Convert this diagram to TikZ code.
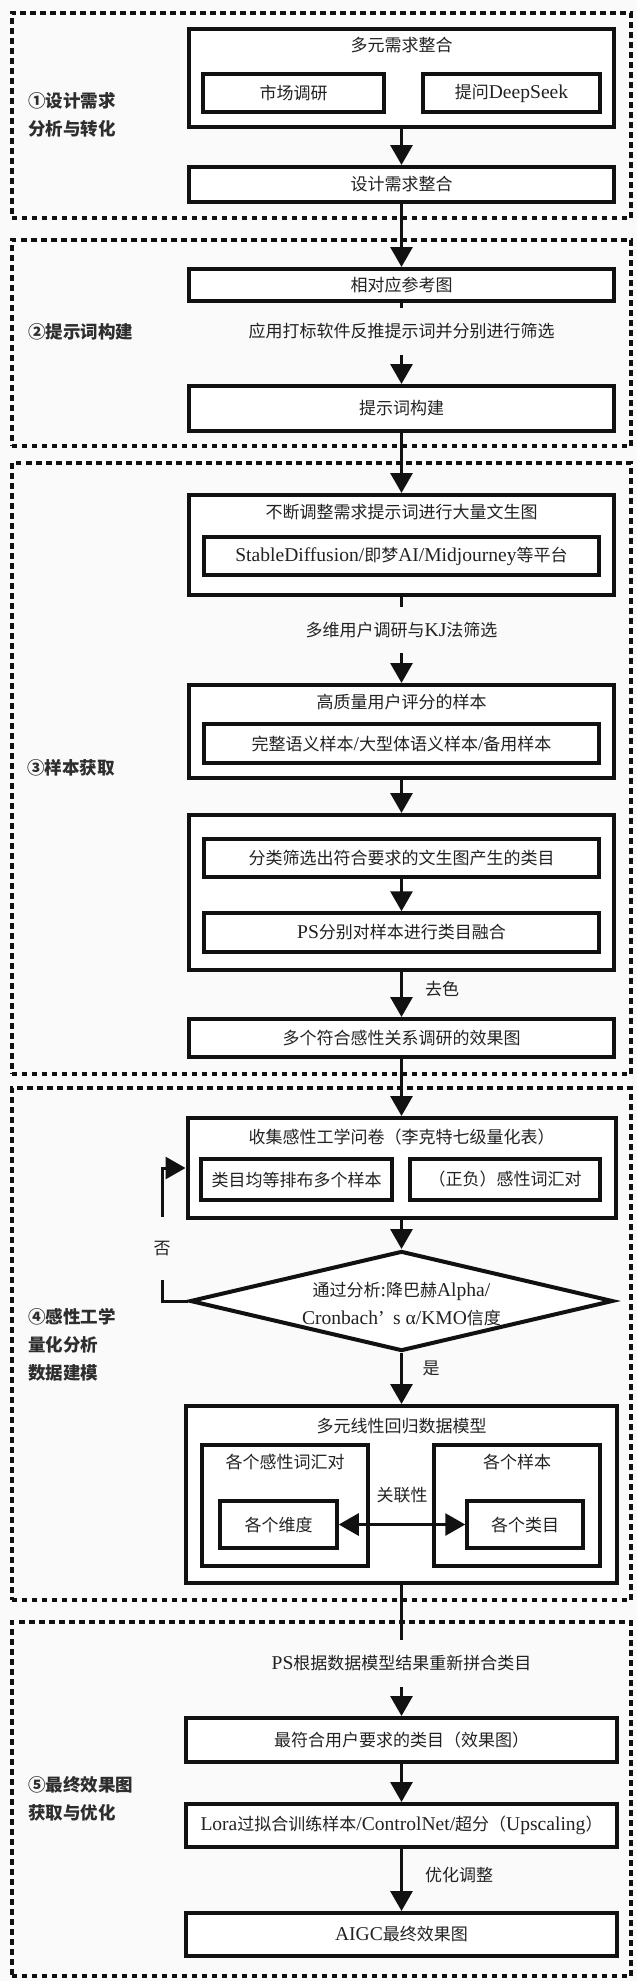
\documentclass[tikz,border=0pt]{standalone}
\usepackage{fontspec}
\setmainfont{Noto Sans CJK SC}
\newfontfamily\latf[Scale=1.15]{Liberation Serif}
\newcommand\en[1]{{\latf #1}}
\usetikzlibrary{arrows.meta,shapes.geometric}
\definecolor{bg}{HTML}{FAFAFA}
\definecolor{ink}{HTML}{222222}
\definecolor{lab}{HTML}{2E2E2E}
\definecolor{edge}{HTML}{111111}
\begin{document}
\begin{tikzpicture}[x=1pt,y=-1pt,
  txt/.style={text=ink, font=\fontsize{17}{20}\selectfont, inner sep=2pt},
  obox/.style={draw=edge, line width=4pt, fill=white, txt},
  ibox/.style={draw=edge, line width=3.5pt, fill=white, txt},
  lbl/.style={anchor=west, align=left, text=lab, inner sep=0pt, font=\bfseries\fontsize{17.5}{28}\selectfont},
  arr/.style={draw=edge, line width=3pt, -{Triangle[width=22pt,length=20pt]}},
  darr/.style={draw=edge, line width=3pt, {Triangle[width=22pt,length=20pt]}-{Triangle[width=22pt,length=20pt]}},
  ln/.style={draw=edge, line width=3pt},
  sect/.style={draw=edge, line width=4pt, dash pattern=on 5.5pt off 4.5pt}
]
\fill[bg] (0,0) rectangle (637,1981);
\useasboundingbox (0,0) rectangle (637,1981);

% section frames
\node[sect, minimum width=619.5pt, minimum height=205.3pt] (d1) at (321.25,115.35) {};
\node[sect, minimum width=619.5pt, minimum height=206pt] (d2) at (321.25,343) {};
\node[sect, minimum width=619.5pt, minimum height=611pt] (d3) at (321.25,768.5) {};
\node[sect, minimum width=619.5pt, minimum height=512pt] (d4) at (321.25,1344) {};
\node[sect, minimum width=619.5pt, minimum height=354pt] (d5) at (321.25,1799) {};

% section 1
\node[obox, minimum width=425pt, minimum height=98pt] (b1) at (401.5,78) {};
\node[txt] (b1t) at (401.5,45) {多元需求整合};
\node[ibox, minimum width=181pt, minimum height=38pt] (b1a) at (293.5,93) {市场调研};
\node[ibox, minimum width=177pt, minimum height=38pt] (b1b) at (511.5,93) {提问\en{DeepSeek}};
\node[obox, minimum width=425pt, minimum height=35pt] (b2) at (401.5,184.5) {设计需求整合};

% section 2
\node[obox, minimum width=425pt, minimum height=32pt] (b3) at (401.5,285) {相对应参考图};
\node[txt, minimum height=47pt] (t2) at (401.5,331.5) {应用打标软件反推提示词并分别进行筛选};
\node[obox, minimum width=425pt, minimum height=45pt] (b4) at (401.5,408.5) {提示词构建};

% section 3
\node[obox, minimum width=425pt, minimum height=100pt] (b5) at (401.5,545) {};
\node[txt] (b5t) at (401.5,512) {不断调整需求提示词进行大量文生图};
\node[ibox, minimum width=395pt, minimum height=38pt] (b5a) at (401.5,556) {\en{StableDiffusion/}即梦\en{AI/Midjourney}等平台};
\node[txt, minimum height=46pt] (t3) at (401.5,630) {多维用户调研与\en{KJ}法筛选};
\node[obox, minimum width=425pt, minimum height=93pt] (b6) at (401.5,731.5) {};
\node[txt] (b6t) at (401.5,702) {高质量用户评分的样本};
\node[ibox, minimum width=395pt, minimum height=39pt] (b6a) at (401.5,743.5) {完整语义样本\en{/}大型体语义样本\en{/}备用样本};
\node[obox, minimum width=425pt, minimum height=155pt] (b7) at (401.5,892.5) {};
\node[ibox, minimum width=395pt, minimum height=38pt] (b7a) at (401.5,858) {分类筛选出符合要求的文生图产生的类目};
\node[ibox, minimum width=395pt, minimum height=39pt] (b7b) at (401.5,932.5) {\en{PS}分别对样本进行类目融合};
\node[obox, minimum width=425pt, minimum height=38pt] (b8) at (401.5,1038) {多个符合感性关系调研的效果图};
\node[txt] (l1) at (442,989) {去色};

% section 4
\node[obox, minimum width=428pt, minimum height=100pt] (b9) at (401.5,1168) {};
\node[txt] (b9t) at (401.5,1137) {收集感性工学问卷（李克特七级量化表）};
\node[ibox, minimum width=191pt, minimum height=41pt] (b9a) at (296.5,1179.5) {类目均等排布多个样本};
\node[ibox, minimum width=190pt, minimum height=41pt] (b9b) at (505,1179.5) {（正负）感性词汇对};
\node[diamond, draw=edge, line width=4pt, fill=white, inner sep=0pt, minimum width=423pt, minimum height=100pt] (dm) at (401.5,1301) {};
\node[txt, align=center, font=\fontsize{17}{28}\selectfont] (dmt) at (401.5,1304) {通过分析\en{:}降巴赫\en{Alpha/}\\\en{Cronbach’}\hspace{0.5em}\en{s α/KMO}信度};
\node[txt, minimum height=63pt] (no) at (162,1248.5) {否};
\node[txt] (yes) at (431,1368) {是};
\node[obox, minimum width=431pt, minimum height=177pt] (b10) at (401.5,1494.5) {};
\node[txt] (b10t) at (401.5,1426) {多元线性回归数据模型};
\node[ibox, minimum width=166pt, minimum height=121pt] (b10a) at (285,1505.5) {};
\node[txt] (b10at) at (285,1462) {各个感性词汇对};
\node[ibox, minimum width=117pt, minimum height=47pt] (b10a1) at (278.5,1524.5) {各个维度};
\node[ibox, minimum width=166pt, minimum height=121pt] (b10b) at (517,1505.5) {};
\node[txt] (b10bt) at (517,1462) {各个样本};
\node[ibox, minimum width=116pt, minimum height=47pt] (b10b1) at (525,1524.5) {各个类目};
\node[txt] (rel) at (402,1495) {关联性};

% section 5
\node[txt, minimum height=47pt] (t5) at (401.5,1663.5) {\en{PS}根据数据模型结果重新拼合类目};
\node[obox, minimum width=431pt, minimum height=44pt] (b11) at (401.5,1740) {最符合用户要求的类目（效果图）};
\node[obox, minimum width=431pt, minimum height=43pt] (b12) at (401.5,1825.5) {\en{Lora}过拟合训练样本\en{/ControlNet/}超分（\en{Upscaling}）};
\node[obox, minimum width=431pt, minimum height=43pt] (b13) at (401.5,1934.5) {\en{AIGC}最终效果图};
\node[txt] (opt) at (459,1875) {优化调整};

% connectors
\draw[arr] (b1.south) -- (b2.north);
\draw[arr] (b2.south) -- (b3.north);
\draw[ln] (b3.south) -- (t2.north);
\draw[arr] (t2.south) -- (b4.north);
\draw[arr] (b4.south) -- (b5.north);
\draw[ln] (b5.south) -- (t3.north);
\draw[arr] (t3.south) -- (b6.north);
\draw[arr] (b6.south) -- (b7.north);
\draw[arr] (b7a.south) -- (b7b.north);
\draw[arr] (b7.south) -- (b8.north);
\draw[arr] (b8.south) -- (b9.north);
\draw[arr] (b9.south) -- (dm.north);
\draw[ln] (dm.west) -| (no.south);
\draw[arr] (no.north) |- (b9.west);
\draw[arr] (dm.south) -- (b10.north);
\draw[darr] (b10a1.east) -- (b10b1.west);
\draw[ln] (b10.south) -- (t5.north);
\draw[arr] (t5.south) -- (b11.north);
\draw[arr] (b11.south) -- (b12.north);
\draw[arr] (b12.south) -- (b13.north);

% section labels
\node[lbl] (L1) at (28,114.5) {①设计需求\\分析与转化};
\node[lbl] (L2) at (28,332) {②提示词构建};
\node[lbl] (L3) at (27,768) {③样本获取};
\node[lbl] (L4) at (28,1344.5) {④感性工学\\量化分析\\数据建模};
\node[lbl] (L5) at (28,1799) {⑤最终效果图\\获取与优化};
\end{tikzpicture}
\end{document}
